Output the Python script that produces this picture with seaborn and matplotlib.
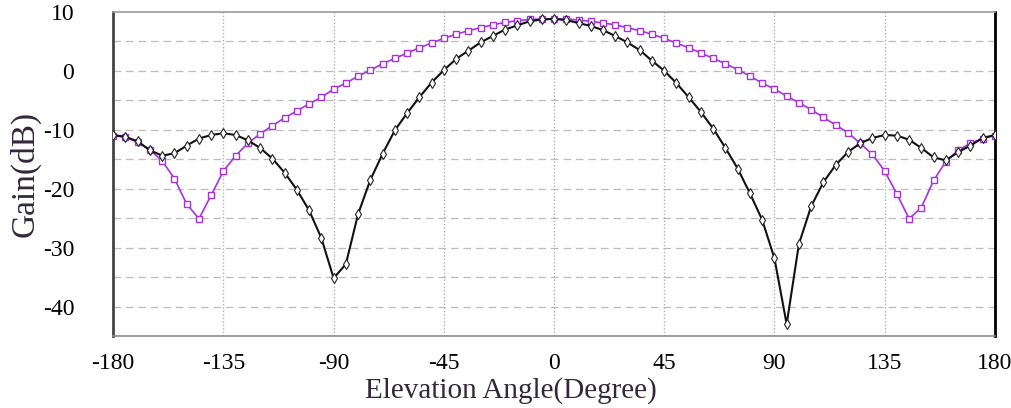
import numpy as np
import pandas as pd
import matplotlib
matplotlib.use("Agg")
import matplotlib.pyplot as plt
import seaborn as sns
from matplotlib.ticker import MultipleLocator, FuncFormatter

angles = list(range(-180, 181, 5))

gain_black = [
    -10.9, -11.2, -12.0, -13.5, -14.4, -14.0, -12.7, -11.5, -10.9, -10.6,
    -10.9, -11.8, -13.1, -14.9, -17.3, -20.2, -23.7, -28.4, -35.2, -32.8,
    -24.3, -18.5, -14.1, -10.1, -7.2, -4.5, -2.0, 0.1, 2.0, 3.4,
    4.8, 5.9, 7.0, 7.7, 8.4, 8.7, 8.8, 8.6, 8.1, 7.6,
    6.9, 5.9, 4.8, 3.5, 1.7, 0.0, -2.1, -4.5, -7.0, -9.8,
    -13.1, -16.6, -20.8, -25.3, -31.8, -43.0, -29.4, -23.0, -18.9, -16.0,
    -13.8, -12.3, -11.4, -10.9, -11.0, -11.7, -13.1, -14.7, -15.2, -13.8,
    -12.7, -11.4, -10.9,
]

gain_purple = [
    -11.0, -11.3, -12.1, -13.4, -15.3, -18.3, -22.6, -25.1, -21.1, -17.0,
    -14.4, -12.3, -10.7, -9.3, -8.0, -6.8, -5.6, -4.5, -3.1, -2.1,
    -0.9, 0.1, 1.2, 2.1, 3.0, 3.9, 4.7, 5.5, 6.2, 6.8,
    7.3, 7.8, 8.2, 8.5, 8.7, 8.8, 8.8, 8.8, 8.6, 8.4,
    8.1, 7.8, 7.3, 6.8, 6.2, 5.5, 4.7, 3.9, 3.0, 2.1,
    1.2, 0.2, -0.9, -2.1, -3.1, -4.3, -5.4, -6.6, -7.9, -9.2,
    -10.5, -12.3, -14.2, -17.0, -20.9, -25.1, -23.2, -18.6, -15.4, -13.5,
    -12.3, -11.5, -11.0,
]

x_ticks = [-180, -135, -90, -45, 0, 45, 90, 135, 180]
y_label_ticks = [10, 0, -10, -20, -30, -40]

sns.set_style("white")
plt.rcParams["font.family"] = ["Liberation Serif", "DejaVu Serif"]
plt.rcParams["axes.unicode_minus"] = False

df = pd.DataFrame({"angle": angles, "black": gain_black, "purple": gain_purple})

fig = plt.figure(figsize=(10.11, 4.08), dpi=100)
ax = fig.add_axes([0.112, 0.1765, 0.872, 0.7945])

purple = "#A632E0"
sns.lineplot(data=df, x="angle", y="purple", ax=ax, color=purple, lw=1.2,
             marker="s", markersize=4.0, markerfacecolor="white",
             markeredgecolor=purple, markeredgewidth=1.0, zorder=3)
sns.lineplot(data=df, x="angle", y="black", ax=ax, color="#111111", lw=1.5,
             marker="d", markersize=4.8, markerfacecolor="white",
             markeredgecolor="#222222", markeredgewidth=0.8, zorder=4)

ax.set_xlim(-180, 180)
ax.set_ylim(-45, 10)
ax.set_xticks(x_ticks)
ax.yaxis.set_major_locator(MultipleLocator(5))
ax.yaxis.set_major_formatter(FuncFormatter(
    lambda v, p: f"{int(round(v))}" if int(round(v)) in y_label_ticks else ""))

# grids
for yv in np.arange(-40, 10, 5):
    ax.axhline(yv, color="#bcbcbc", lw=0.9, ls=(0, (6, 4)), zorder=1)
for xv in x_ticks[1:-1]:
    ax.axvline(xv, color="#b0b0b0", lw=1.0, ls=(0, (1, 1.5)), zorder=1)

ax.tick_params(axis="both", length=0, labelsize=17, colors="black")
ax.tick_params(axis="y", pad=28)
ax.tick_params(axis="x", pad=12)

ax.spines["left"].set_color("#444444")
ax.spines["left"].set_linewidth(2.0)
ax.spines["bottom"].set_color("#8a8a8a")
ax.spines["bottom"].set_linewidth(1.2)
ax.spines["top"].set_color("#9a9a9a")
ax.spines["top"].set_linewidth(1.2)
ax.spines["right"].set_color("black")
ax.spines["right"].set_linewidth(2.0)

label_color = "#33283a"
ax.set_xlabel("Elevation Angle(Degree)", fontsize=21, color=label_color)
ax.set_ylabel("Gain(dB)", fontsize=24, color=label_color)
ax.xaxis.set_label_coords(0.451, -0.167)
ax.xaxis.label.set_verticalalignment("center")
ax.yaxis.set_label_coords(-0.1, 0.5)
ax.yaxis.label.set_verticalalignment("center")

fig.savefig("out.png", dpi=100)
